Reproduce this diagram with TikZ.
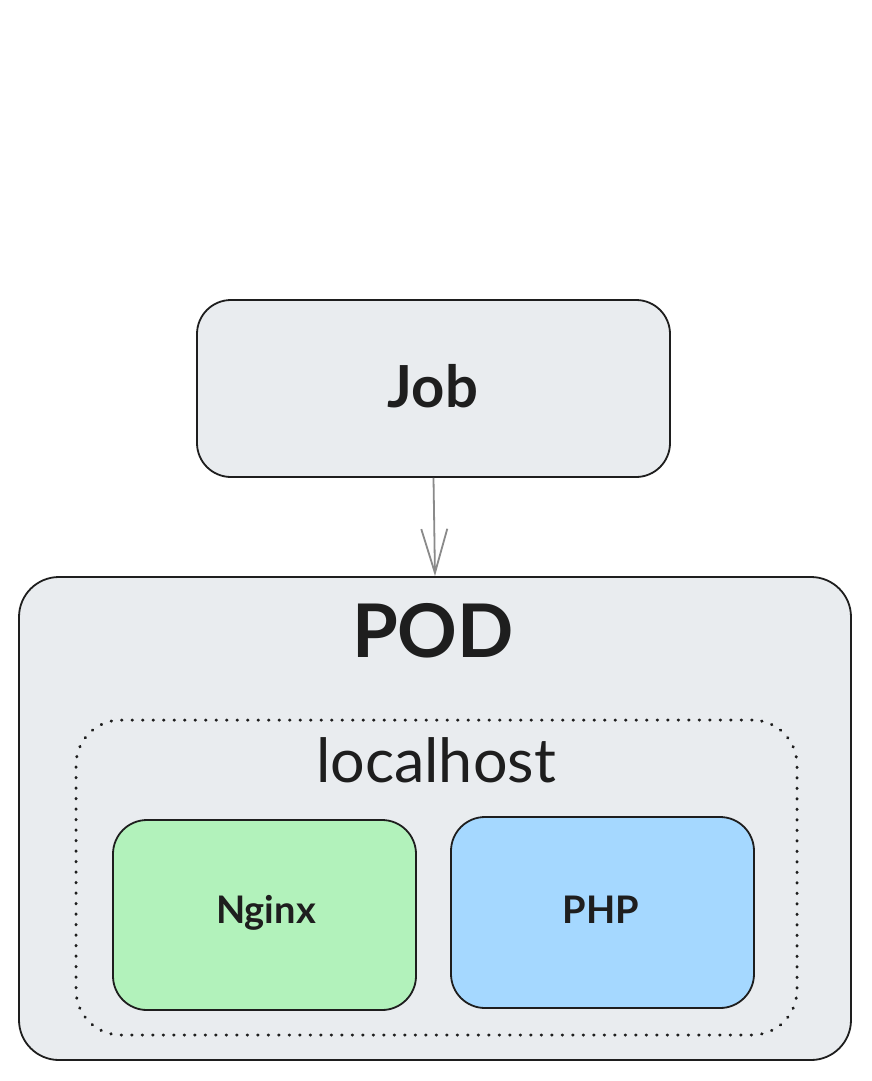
\documentclass[tikz,border=0pt]{standalone}
\usepackage{fontspec}
\setmainfont{Lato}
\usetikzlibrary{arrows.meta}
\definecolor{ink}{HTML}{1E1E1E}
\definecolor{boxgray}{HTML}{E9ECEF}
\definecolor{boxgreen}{HTML}{B2F2BB}
\definecolor{boxblue}{HTML}{A5D8FF}
\definecolor{arrowgray}{HTML}{8A8A8A}
\tikzset{
  sketchbox/.style={draw=ink, line width=1.8pt, rounded corners=#1, inner sep=0pt},
  lbl/.style={text=ink, inner sep=0pt, anchor=center},
  link/.style={draw=arrowgray, line width=1.8pt, -{Straight Barb[length=44pt,width=26pt,line width=1.8pt]}},
}
\begin{document}
\begin{tikzpicture}[x=1pt,y=-1pt]
\fill[white] (0,0) rectangle (871,1081);
\useasboundingbox (0,0) rectangle (871,1081);
% boxes
\node[sketchbox=34pt, fill=boxgray, minimum width=473pt, minimum height=177pt] (job) at (433.5,388.5) {};
\node[sketchbox=40pt, fill=boxgray, minimum width=832pt, minimum height=483pt] (pod) at (435,818.5) {};
\node[draw=ink, line width=3pt, line cap=round, dash pattern=on 0.5pt off 10pt, rounded corners=45pt, minimum width=721pt, minimum height=315pt, inner sep=0pt] (lh) at (436.5,877.5) {};
\node[sketchbox=34pt, fill=boxgreen, minimum width=303pt, minimum height=190pt] (nginx) at (264.5,915) {};
\node[sketchbox=34pt, fill=boxblue, minimum width=303pt, minimum height=191pt] (php) at (602.5,912.5) {};
% labels
\node[lbl, font=\fontsize{58}{64}\selectfont\bfseries] (jobt) at (433,386) {Job};
\node[lbl, font=\fontsize{74}{84}\selectfont\bfseries] (podt) at (433,631) {POD};
\node[lbl, font=\fontsize{61}{70}\selectfont] (lht) at (436,760) {localhost};
\node[lbl, font=\fontsize{38}{44}\selectfont\bfseries] (ngt) at (266,913) {Nginx};
\node[lbl, font=\fontsize{38}{44}\selectfont\bfseries] (pht) at (601,910) {PHP};
% connector
\draw[link] (job.south) -- (pod.north);
\end{tikzpicture}
\end{document}
